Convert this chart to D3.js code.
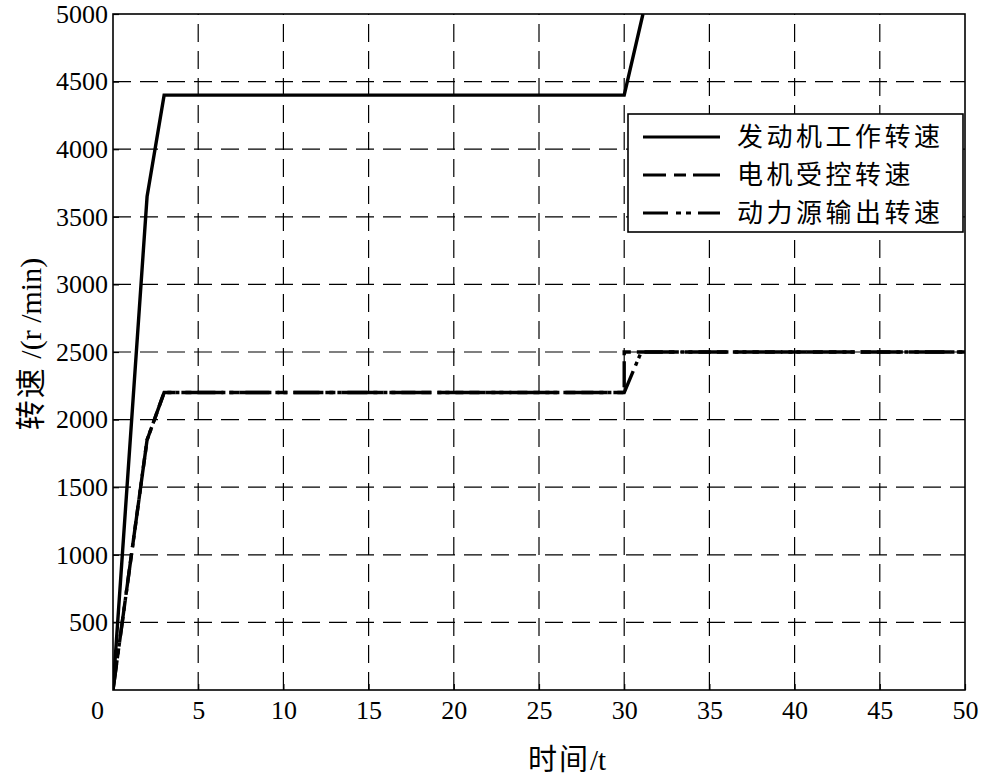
<!DOCTYPE html>
<html><head><meta charset="utf-8">
<script src="https://cdn.jsdelivr.net/npm/d3@7"></script>
<style>
html,body{margin:0;padding:0;background:#fff;}
svg{display:block;}
</style></head>
<body>
<svg id="chart" width="981" height="780"></svg>
<script>
// ---- data ----
const xTicks = [0,5,10,15,20,25,30,35,40,45,50];
const yTicks = [500,1000,1500,2000,2500,3000,3500,4000,4500,5000];
const seriesNames = ["发动机工作转速","电机受控转速","动力源输出转速"];
const engineT = [0, 2, 3, 30, 31.1];
const engineV = [0, 3650, 4400, 4400, 5000];
const motorT = [0, 2, 3, 30, 30, 50];
const motorV = [0, 1850, 2200, 2200, 2500, 2500];
const outputT = [0, 2, 3, 30, 31, 50];
const outputV = [0, 1850, 2200, 2200, 2500, 2500];

// ---- layout ----
const svg = d3.select("#chart");
const L = 113, R = 965, T = 14, B = 690;
const x = d3.scaleLinear().domain([0,50]).range([L,R]);
const y = d3.scaleLinear().domain([0,5000]).range([B,T]);
const serif = "'Liberation Serif','Times New Roman',serif";
const cjk = "'Noto Sans CJK SC','Noto Sans CJK JP',sans-serif";

svg.append("defs").append("clipPath").attr("id","clip")
  .append("rect").attr("x",L).attr("y",T).attr("width",R-L).attr("height",B-T);

// grid
const grid = svg.append("g").attr("stroke","#000").attr("stroke-width",1.2)
  .attr("stroke-dasharray","18,9").attr("fill","none");
yTicks.filter(v=>v<5000).forEach(v=>{
  grid.append("line").attr("x1",L).attr("x2",R).attr("y1",y(v)).attr("y2",y(v));
});
xTicks.filter(v=>v>0&&v<50).forEach(v=>{
  grid.append("line").attr("x1",x(v)).attr("x2",x(v)).attr("y1",B).attr("y2",T);
});

// axes
const xAxis = d3.axisBottom(x).tickValues(xTicks).tickSize(-6).tickPadding(11).tickFormat(d3.format("d"));
const gx = svg.append("g").attr("transform",`translate(0,${B})`).call(xAxis);
const yAxis = d3.axisLeft(y).tickValues(yTicks).tickSize(-6).tickPadding(6).tickFormat(d3.format("d"));
const gy = svg.append("g").attr("transform",`translate(${L},0)`).call(yAxis);
[gx,gy].forEach(g=>{
  g.attr("font-family",null);
  g.select(".domain").remove();
  g.selectAll(".tick line").attr("stroke","#000").attr("stroke-width",1.2);
  g.selectAll(".tick text").attr("fill","#000").style("font-family",serif).style("font-size","26px");
});
gx.selectAll(".tick text").attr("dy","0.71em");
gx.selectAll(".tick").filter(d=>d===0).select("text").attr("dx",-16);
gy.selectAll(".tick text").attr("dx",1);

// frame
svg.append("rect").attr("x",L).attr("y",T).attr("width",R-L).attr("height",B-T)
  .attr("fill","none").attr("stroke","#000").attr("stroke-width",1.6);

// series
const line = d3.line().x(d=>x(d[0])).y(d=>y(d[1]));
const series = [
  {name:seriesNames[1], pts:d3.zip(motorT,motorV), dash:"26,6,10,6"},
  {name:seriesNames[2], pts:d3.zip(outputT,outputV), dash:"30,6,4,4,4,6"},
  {name:seriesNames[0], pts:d3.zip(engineT,engineV), dash:null}
];
const gl = svg.append("g").attr("clip-path","url(#clip)");
series.forEach(s=>{
  gl.append("path").attr("d",line(s.pts)).attr("fill","none").attr("stroke","#000")
    .attr("stroke-width",3.4).attr("stroke-linejoin","miter")
    .attr("stroke-dasharray",s.dash);
});

// legend
const lg = svg.append("g");
lg.append("rect").attr("x",628).attr("y",114).attr("width",335).attr("height",118)
  .attr("fill","#fff").attr("stroke","#000").attr("stroke-width",1.6);
const legendOrder = [
  {name:seriesNames[0], dash:null},
  {name:seriesNames[1], dash:"23,8,12,7,30"},
  {name:seriesNames[2], dash:"25,8,5,5,5,7,30"}
];
legendOrder.forEach((s,i)=>{
  const yy = 137 + i*38;
  lg.append("line").attr("x1",643).attr("x2",720).attr("y1",yy).attr("y2",yy)
    .attr("stroke","#000").attr("stroke-width",3.2).attr("stroke-dasharray",s.dash);
  lg.append("text").attr("x",737).attr("y",yy).attr("dy","0.36em")
    .style("font-family",cjk).style("font-size","26px").attr("letter-spacing","3.5px")
    .attr("fill","#000").text(s.name);
});

// axis labels (CJK part + serif part)
const xl = svg.append("text").attr("x",567).attr("y",760).attr("dy","0.35em").attr("text-anchor","middle")
  .attr("fill","#000").style("font-size","29px");
xl.append("tspan").style("font-family",cjk).attr("letter-spacing","2px").text("时间");
xl.append("tspan").style("font-family",serif).text("/t");

const yl = svg.append("text").attr("transform","translate(30,344) rotate(-90)").attr("dy","0.35em")
  .attr("text-anchor","middle").attr("fill","#000").style("font-size","30px");
yl.append("tspan").style("font-family",cjk).attr("letter-spacing","2px").text("转速");
yl.append("tspan").style("font-family",serif).text(" /(r /min)");
</script>
</body></html>
